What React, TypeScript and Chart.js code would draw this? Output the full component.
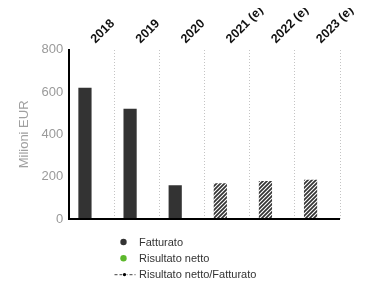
import React, { useEffect, useRef } from 'react';
import { Chart, registerables } from 'chart.js';

Chart.register(...registerables);

const categories = ['2018', '2019', '2020', '2021 (e)', '2022 (e)', '2023 (e)'];
const fatturato = [620, 521, 160, 169, 180, 185];
const risultatoNetto: (number | null)[] = [null, null, null, null, null, null];
const rapporto: (number | null)[] = [null, null, null, null, null, null];
const isEstimate = [false, false, false, true, true, true];
const seriesLabels = ['Fatturato', 'Risultato netto', 'Risultato netto/Fatturato'];
const yAxisTitle = 'Milioni EUR';

const DARK = '#333333';
const GREEN = '#5cb82c';
const FONT = "'Liberation Sans', Arial, sans-serif";

function makeHatch(): CanvasPattern | string {
  const c = document.createElement('canvas');
  const s = 4;
  c.width = s;
  c.height = s;
  const g = c.getContext('2d');
  if (!g) return DARK;
  g.fillStyle = '#ffffff';
  g.fillRect(0, 0, s, s);
  g.strokeStyle = DARK;
  g.lineWidth = 1.7;
  g.beginPath();
  g.moveTo(-1, s + 1);
  g.lineTo(s + 1, -1);
  g.moveTo(-1, 1);
  g.lineTo(1, -1);
  g.moveTo(s - 1, s + 1);
  g.lineTo(s + 1, s - 1);
  g.stroke();
  return g.createPattern(c, 'repeat') || DARK;
}

const legendPlugin = {
  id: 'customLegend',
  afterDraw(chart: any) {
    const ctx = chart.ctx as CanvasRenderingContext2D;
    const ds = chart.data.datasets;
    const symX = 115.5;
    const textX = 131;
    const top = chart.chartArea.bottom + 23;
    const gap = 16.3;
    ctx.save();
    ctx.font = `11px ${FONT}`;
    ctx.textBaseline = 'middle';
    ctx.textAlign = 'left';
    ds.forEach((d: any, i: number) => {
      const y = top + i * gap;
      if (i < 2) {
        ctx.beginPath();
        ctx.fillStyle = d.legendColor;
        ctx.arc(symX, y, 3.2, 0, Math.PI * 2);
        ctx.fill();
      } else {
        ctx.strokeStyle = '#666';
        ctx.lineWidth = 1.3;
        ctx.setLineDash([3, 2]);
        ctx.beginPath();
        ctx.moveTo(symX - 9, y);
        ctx.lineTo(symX + 12, y);
        ctx.stroke();
        ctx.setLineDash([]);
        ctx.fillStyle = '#ffffff';
        ctx.fillRect(symX - 1.5, y - 2, 5, 4);
        ctx.beginPath();
        ctx.fillStyle = '#000';
        ctx.arc(symX + 1, y, 1.7, 0, Math.PI * 2);
        ctx.fill();
      }
      ctx.fillStyle = '#333';
      ctx.fillText(d.label, textX, y + 0.5);
    });
    ctx.restore();
  },
};

export default function App() {
  const ref = useRef<HTMLCanvasElement | null>(null);

  useEffect(() => {
    if (!ref.current) return;
    const hatch = makeHatch();
    const chart = new Chart(ref.current, {
      type: 'bar',
      data: {
        labels: categories,
        datasets: [
          {
            type: 'bar',
            label: seriesLabels[0],
            data: fatturato,
            backgroundColor: isEstimate.map((e) => (e ? hatch : DARK)) as any,
            borderWidth: 0,
            categoryPercentage: 0.61,
            barPercentage: 0.96,
            legendColor: DARK,
          } as any,
          {
            type: 'bar',
            label: seriesLabels[1],
            data: risultatoNetto,
            backgroundColor: GREEN,
            borderWidth: 0,
            categoryPercentage: 0.61,
            barPercentage: 0.96,
            legendColor: GREEN,
          } as any,
          {
            type: 'line',
            label: seriesLabels[2],
            data: rapporto,
            borderColor: '#666',
            borderDash: [3, 2],
            pointBackgroundColor: '#000',
            yAxisID: 'y1',
            legendColor: '#000',
          } as any,
        ],
      },
      options: {
        animation: false,
        responsive: true,
        maintainAspectRatio: false,
        layout: { padding: { left: 5, right: 21, top: -8, bottom: 72 } },
        plugins: {
          legend: { display: false },
          tooltip: { enabled: false },
        },
        scales: {
          x: {
            position: 'top',
            offset: true,
            afterFit: (scale: any) => {
              scale.height += 8;
            },
            grid: { color: '#c4c4c4', lineWidth: 1, drawTicks: false, offset: true },
            border: { display: false, dash: [1, 2] },
            ticks: {
              color: '#111',
              font: { family: FONT, size: 12.5, weight: 'bold', lineHeight: 1 },
              minRotation: 45,
              maxRotation: 45,
              padding: 4,
              labelOffset: 10,
              autoSkip: false,
            },
          },
          y: {
            min: 0,
            max: 800,
            ticks: {
              stepSize: 200,
              color: '#9a9a9a',
              font: { family: FONT, size: 13 },
              padding: 6,
            },
            grid: {
              drawTicks: false,
              lineWidth: 2,
              color: (c: any) => (c.tick && c.tick.value === 0 ? '#000' : 'rgba(0,0,0,0)'),
            },
            border: { display: true, color: '#000', width: 2 },
            title: {
              display: true,
              text: yAxisTitle,
              color: '#a0a0a0',
              font: { family: FONT, size: 13 },
              padding: { top: 4, bottom: 3 },
            },
          },
          y1: { display: false, min: 0, max: 100 },
        },
      },
      plugins: [legendPlugin],
    });
    return () => chart.destroy();
  }, []);

  return (
    <div style={{ position: 'relative', width: 353, height: 291, marginTop: -8 }}>
      <canvas ref={ref} />
    </div>
  );
}
